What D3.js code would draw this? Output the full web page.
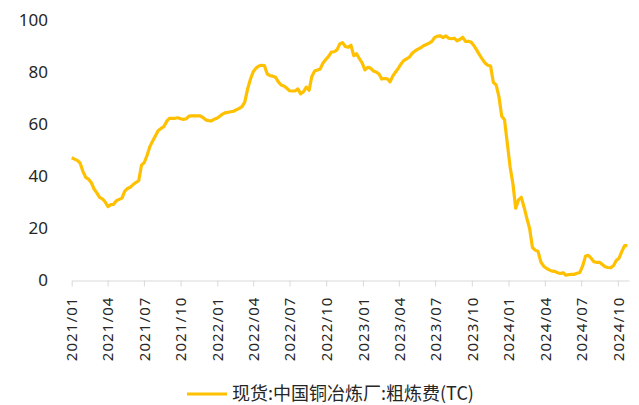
<!DOCTYPE html>
<html>
<head>
  <meta charset="utf-8">
  <title>粗炼费</title>
  <script src="https://d3js.org/d3.v7.min.js"></script>
  <style>
    body { margin: 0; background: #ffffff; }
    svg { display: block; font-family: "Noto Sans", "Noto Sans CJK SC", sans-serif; }
  </style>
</head>
<body>
<svg width="639" height="405"></svg>

<script>
  // weekly TC (USD/t), first week = 2021/01/01
  var firstWeek = "2021-01-01";
  var tcValues = [
    47.0, 46.5, 46.0, 45.0, 41.8, 39.5, 38.8, 37.5, 35.0, 33.5,
    31.8, 31.2, 30.0, 28.2, 29.0, 29.1, 30.5, 31.0, 31.5, 34.2,
    35.2, 35.7, 36.7, 37.5, 38.2, 44.2, 45.2, 48.0, 51.3, 53.5,
    55.5, 57.5, 58.3, 59.0, 61.0, 62.2, 62.2, 62.2, 62.4, 62.0,
    61.8, 62.0, 63.0, 63.1, 63.1, 63.1, 63.1, 62.5, 61.6, 61.3,
    61.2, 61.8, 62.2, 63.0, 63.8, 64.3, 64.5, 64.7, 64.9, 65.5,
    66.0, 66.7, 68.5, 73.5, 77.2, 80.1, 81.5, 82.3, 82.6, 82.5,
    79.3, 78.6, 78.4, 78.0, 76.2, 75.0, 74.6, 73.8, 72.8, 72.7,
    72.7, 73.5, 71.6, 72.4, 74.2, 73.0, 78.3, 80.4, 80.8, 81.2,
    83.5, 84.8, 86.0, 87.7, 87.8, 88.5, 90.8, 91.3, 89.8, 89.5,
    90.3, 86.3, 87.0, 85.2, 83.5, 80.8, 81.8, 81.5, 80.4, 80.0,
    79.3, 77.3, 77.5, 77.4, 76.2, 78.5, 80.0, 81.5, 83.2, 84.5,
    85.1, 85.8, 87.3, 88.1, 88.8, 89.3, 90.1, 90.6, 91.1, 91.8,
    93.3, 93.8, 93.9, 93.2, 93.9, 93.0, 92.8, 93.0, 92.0, 92.5,
    93.4, 91.8, 91.8, 91.5, 90.2, 88.5, 86.7, 85.0, 83.5, 82.6,
    82.3, 76.0, 75.0, 70.5, 63.0, 61.6, 52.5, 43.5, 37.0, 27.6,
    30.8, 31.8, 28.0, 23.7, 19.7, 12.5, 11.5, 11.0, 7.0, 5.3,
    4.5, 3.9, 3.4, 3.3, 2.8, 2.5, 2.8, 1.8, 2.1, 2.2,
    2.2, 2.6, 2.9, 5.5, 9.2, 9.5, 8.4, 7.0, 6.8, 6.8,
    6.0, 5.1, 4.8, 4.7, 5.5, 7.5, 8.4, 11.0, 13.2, 13.2
  ];
  var yTicks = [0, 20, 40, 60, 80, 100];
  var axisEnd = "2024-10-29";
  var seriesName = "现货:中国铜冶炼厂:粗炼费(TC)";

  var parse = d3.timeParse("%Y-%m-%d");
  var start = parse(firstWeek);
  var data = tcValues.map(function(v, i) {
    return { date: d3.timeDay.offset(start, i * 7), value: v };
  });

  var svg = d3.select("svg");

  var x = d3.scaleTime()
            .domain([start, parse(axisEnd)])
            .range([71.7, 629]);

  var y = d3.scaleLinear()
            .domain([0, 100])
            .range([280, 20]);

  // y labels, no axis line
  svg.append("g")
     .selectAll("text")
     .data(yTicks)
     .enter()
     .append("text")
     .attr("x", 48)
     .attr("y", function(d) { return y(d); })
     .attr("dy", "0.35em")
     .attr("text-anchor", "end")
     .attr("fill", "#262626")
     .style("font-size", "17px")
     .text(function(d) { return d; });

  // x axis
  var xAxis = d3.axisBottom(x)
                .ticks(d3.timeMonth.every(3))
                .tickFormat(d3.timeFormat("%Y/%m"))
                .tickSize(6)
                .tickSizeOuter(0);

  var gx = svg.append("g")
              .attr("transform", "translate(0,280.5)")
              .call(xAxis);

  gx.select(".domain").attr("stroke", "#d9d9d9");
  gx.selectAll(".tick line").attr("stroke", "#d9d9d9");
  gx.selectAll(".tick text")
    .attr("transform", "rotate(-90)")
    .attr("text-anchor", "end")
    .attr("x", -16)
    .attr("y", 0)
    .attr("dy", "0.35em")
    .attr("fill", "#262626")
    .style("font-size", "15px")
    .style("letter-spacing", "1.1px")
    .style("font-family", "'Noto Sans', sans-serif");

  // line
  var line = d3.line()
               .x(function(d) { return x(d.date); })
               .y(function(d) { return y(d.value); });

  svg.append("path")
     .datum(data)
     .attr("d", line)
     .attr("fill", "none")
     .attr("stroke", "#ffc000")
     .attr("stroke-width", 3.2)
     .attr("stroke-linejoin", "round");

  // legend
  var legend = svg.append("g").attr("transform", "translate(187,394)");
  legend.append("line")
        .attr("x1", 0).attr("x2", 40)
        .attr("y1", 0).attr("y2", 0)
        .attr("stroke", "#ffc000")
        .attr("stroke-width", 3.2);
  legend.append("text")
        .attr("x", 45)
        .attr("y", 0)
        .attr("dy", "0.35em")
        .attr("fill", "#262626")
        .style("font-size", "18px")
        .style("font-family", "'Noto Sans CJK SC', sans-serif")
        .text(seriesName);
</script>
</body>
</html>
